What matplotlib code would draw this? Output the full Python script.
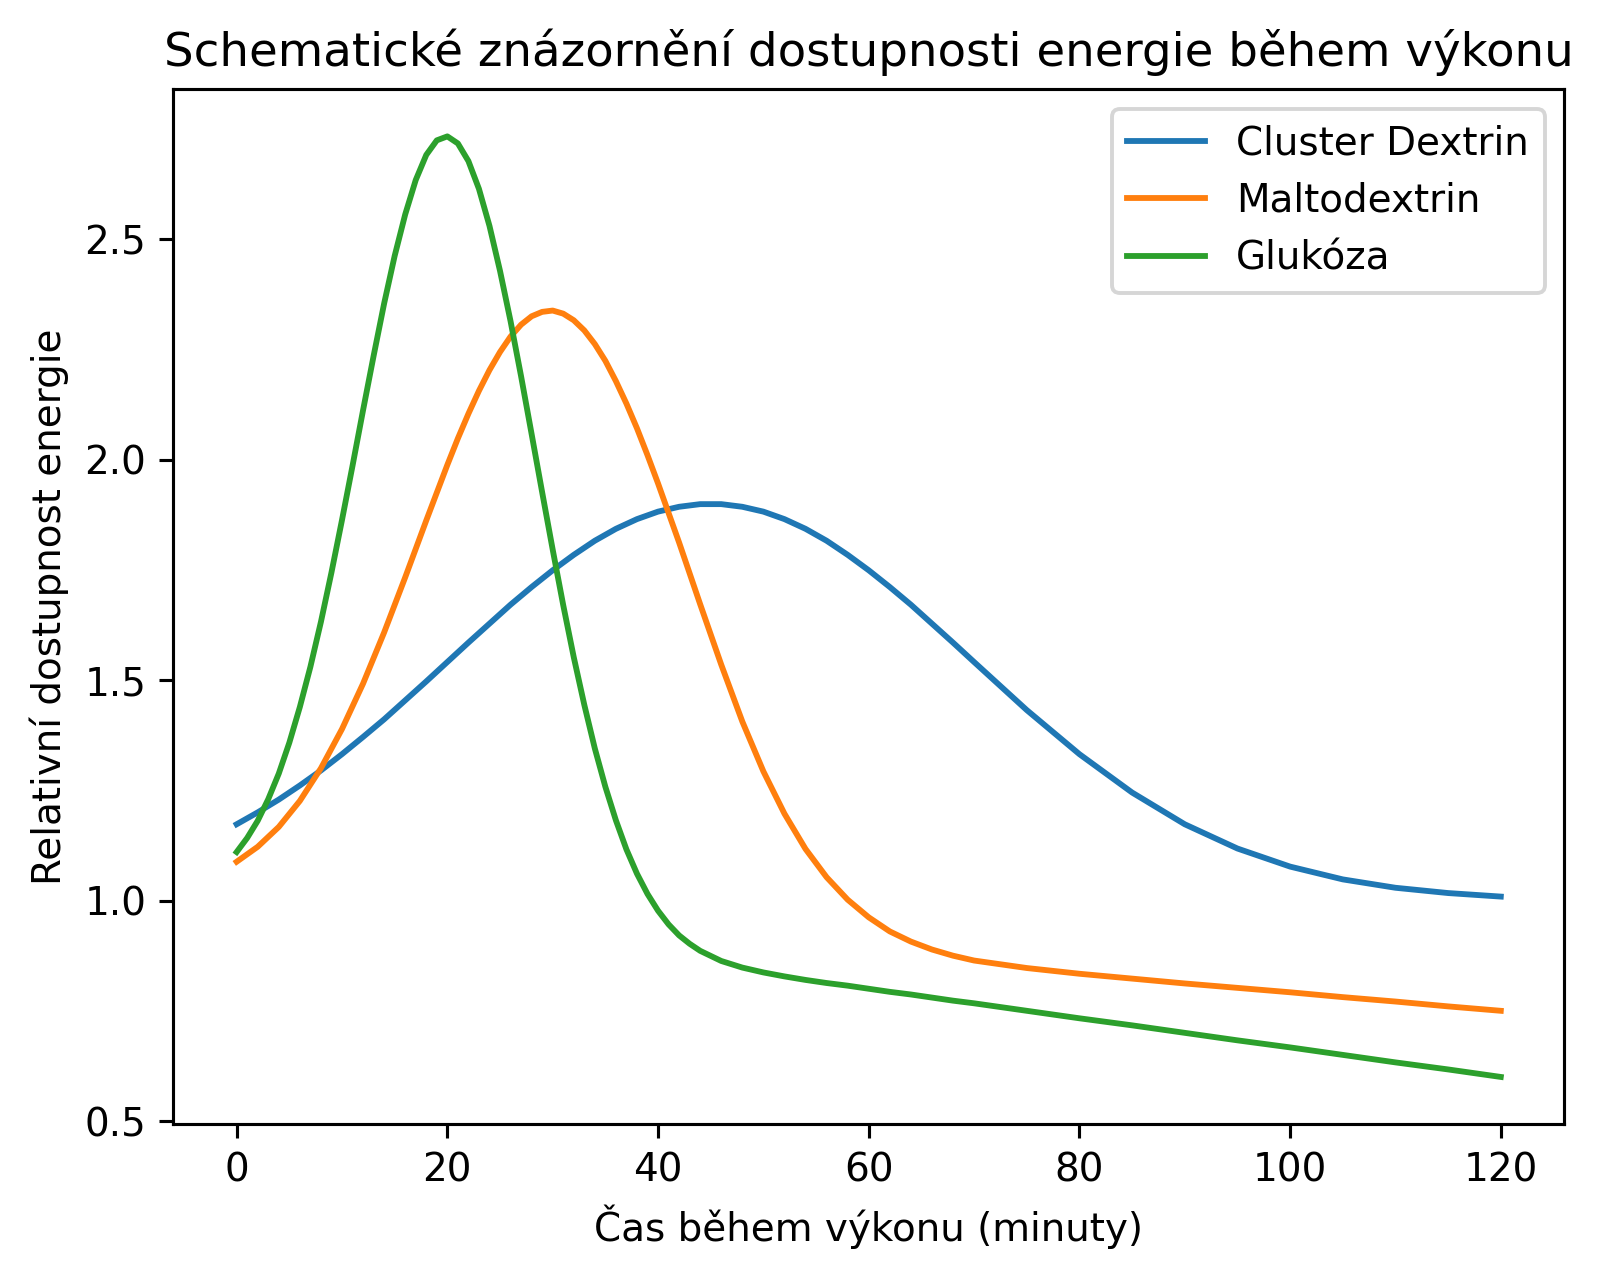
import matplotlib
matplotlib.use("Agg")
import matplotlib.pyplot as plt

# denser sampling where the curves bend sharply
cas_cd = list(range(0, 71, 2)) + list(range(75, 121, 5))
cas_md = list(range(0, 21, 2)) + list(range(21, 40)) + list(range(40, 71, 2)) + list(range(75, 121, 5))
cas_gl = list(range(0, 45)) + list(range(46, 71, 2)) + list(range(75, 121, 5))

cluster_dextrin = [1.173, 1.200, 1.229, 1.261, 1.295, 1.332, 1.371, 1.411,
                   1.454, 1.497, 1.541, 1.585, 1.628, 1.671, 1.711, 1.749,
                   1.784, 1.816, 1.843, 1.865, 1.882, 1.893, 1.899, 1.899,
                   1.893, 1.882, 1.865, 1.843, 1.816, 1.784, 1.749, 1.711,
                   1.671, 1.628, 1.585, 1.541,
                   1.432, 1.332, 1.245, 1.173, 1.118, 1.077, 1.048, 1.029,
                   1.017, 1.009]

maltodextrin = [1.088, 1.122, 1.167, 1.226, 1.300, 1.389, 1.492, 1.608,
                1.733, 1.862, 1.988,
                2.048, 2.104, 2.156, 2.203, 2.244, 2.279, 2.306, 2.325, 2.335,
                2.338, 2.331, 2.316, 2.293, 2.262, 2.224, 2.178, 2.127, 2.071,
                2.010,
                1.946, 1.812, 1.672, 1.535, 1.406, 1.293, 1.197, 1.117, 1.053,
                1.002, 0.962, 0.930, 0.907, 0.889, 0.875, 0.864,
                0.847, 0.834, 0.823, 0.812, 0.802, 0.792, 0.781, 0.771, 0.760,
                0.750]

glukoza = [1.110, 1.142, 1.181, 1.230, 1.288, 1.358, 1.439, 1.530, 1.632,
           1.744, 1.863, 1.986, 2.112, 2.235, 2.354, 2.462, 2.556, 2.634,
           2.691, 2.724, 2.733, 2.717, 2.677, 2.614, 2.530, 2.428, 2.314,
           2.189, 2.058, 1.926, 1.796, 1.670, 1.552, 1.444, 1.345, 1.258,
           1.182, 1.116, 1.061, 1.015, 0.977, 0.946, 0.921, 0.902, 0.886,
           0.863, 0.848, 0.837, 0.828, 0.820, 0.813, 0.807, 0.800, 0.793,
           0.787, 0.780, 0.773, 0.767,
           0.750, 0.733, 0.717, 0.700, 0.683, 0.667, 0.650, 0.633, 0.617,
           0.600]

fig = plt.figure(figsize=(1600 / 280, 1280 / 280), dpi=280)
ax = fig.add_axes([0.1084, 0.1219, 0.8691, 0.8083])

ax.plot(cas_cd, cluster_dextrin, label='Cluster Dextrin')
ax.plot(cas_md, maltodextrin, label='Maltodextrin')
ax.plot(cas_gl, glukoza, label='Glukóza')

ax.set_title('Schematické znázornění dostupnosti energie během výkonu')
ax.set_xlabel('Čas během výkonu (minuty)')
ax.set_ylabel('Relativní dostupnost energie')
ax.legend()

fig.savefig('out.png', dpi=280)
